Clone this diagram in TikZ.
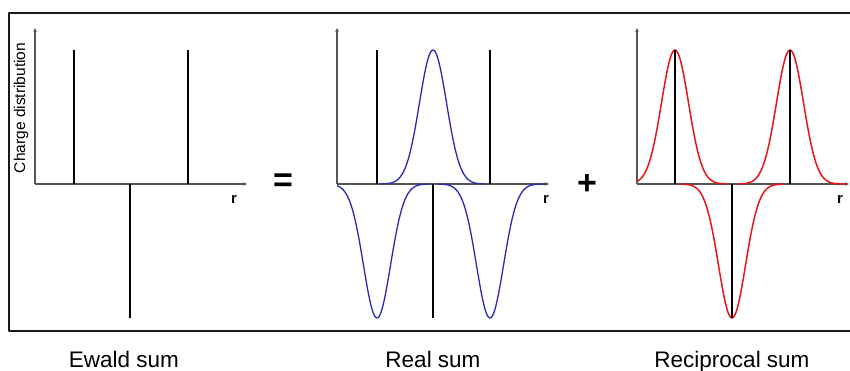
\documentclass[tikz,border=0pt]{standalone}
\usepackage{fontspec}
\setmainfont{Liberation Sans}
\usetikzlibrary{arrows.meta}
\definecolor{ewInk}{HTML}{1A1A1A}
\definecolor{ewAxis}{HTML}{555555}
\definecolor{ewBlue}{HTML}{2A2AB4}
\definecolor{ewRed}{HTML}{E81418}
\tikzset{
 ewald/.style={line cap=butt,line join=round},
 frame/.style={draw=ewInk,line width=1.8pt},
 axis/.style={draw=ewAxis,line width=1.1pt,-{Stealth[length=4pt,width=3.5pt]}},
 spike/.style={draw=black,line width=2.5pt},
 bumpB/.style={draw=ewBlue,line width=1.3pt},
 bumpR/.style={draw=ewRed,line width=1.5pt},
 caption/.style={font=\fontsize{22.5}{24}\selectfont,anchor=base,inner sep=0pt},
 rlabel/.style={font=\fontsize{15}{16}\selectfont\bfseries,inner sep=0pt},
 op/.style={font=\fontsize{34}{36}\selectfont\bfseries,inner sep=0pt},
 ylab/.style={font=\fontsize{15.5}{16}\selectfont,rotate=90,inner sep=0pt}
}
% axes of one panel: name, x of origin, x of the r label
\newcommand{\chargeAxes}[3]{%
 \coordinate (#1o) at (#2,186);
 \coordinate (#1x) at (#2+212,186);
 \coordinate (#1y) at (#2,342);
 \draw[axis] (#1o)--(#1x);
 \draw[axis] (#1o)--(#1y);
 \node[rlabel] (#1r) at (#2+#3,171) {r};}
% gaussian charge cloud: options, centre, sign
\newcommand{\gaussBump}[3]{%
 \draw[domain=-52:52,#1] plot[samples=81,smooth]
   ({#2+\x},{186+#3*134*exp(-\x*\x/364.5)});}
% point charge: centre, sign
\newcommand{\chargeSpike}[2]{%
 \draw[spike] (#1,186)--(#1,{186+#2*134});}

\begin{document}
\begin{tikzpicture}[ewald,x=1pt,y=1pt]
 \useasboundingbox (0,0) rectangle (850,370);
 \draw[frame] (850,357)--(9,357)--(9,39)--(850,39);
 % Ewald sum
 \chargeAxes{e}{35}{199}
 \chargeSpike{74}{1}
 \chargeSpike{130}{-1}
 \chargeSpike{188}{1}
 \node[ylab] (ylab) at (21,262) {Charge distribution};
 \node[op] (eq) at (283,187) {=};
 % real sum
 \chargeAxes{s}{337}{209}
 \gaussBump{bumpB,domain=-40:52}{377}{-1}
 \gaussBump{bumpB}{433}{1}
 \gaussBump{bumpB,domain=-52:56}{490}{-1}
 \chargeSpike{377}{1}
 \chargeSpike{433}{-1}
 \chargeSpike{490}{1}
 \node[op] (plus) at (587,185) {+};
 % reciprocal sum
 \chargeAxes{k}{637}{203}
 \gaussBump{bumpR,domain=-38:52}{675}{1}
 \gaussBump{bumpR}{732}{-1}
 \gaussBump{bumpR,domain=-52:56}{790}{1}
 \chargeSpike{675}{1}
 \chargeSpike{732}{-1}
 \chargeSpike{790}{1}
 \node[caption] (capE) at (124,3) {Ewald sum};
 \node[caption] (capS) at (433,3) {Real sum};
 \node[caption] (capK) at (732,3) {Reciprocal sum};
\end{tikzpicture}
\end{document}
